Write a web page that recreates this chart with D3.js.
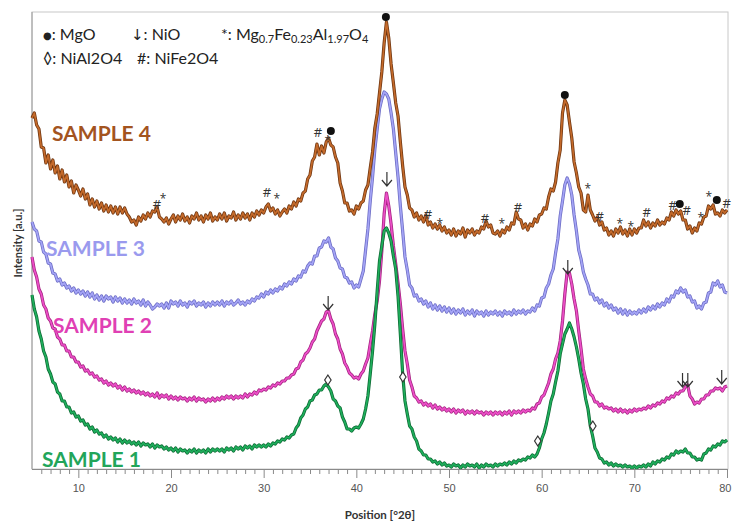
<!DOCTYPE html>
<html><head><meta charset="utf-8">
<script src="https://cdn.jsdelivr.net/npm/d3@7"></script>
<style>body{margin:0;background:#fff}svg{display:block}</style>
</head><body>
<svg id="chart" width="732" height="522"></svg>
<script>
// ---------- DATA ----------
// 2θ sampling grid (5° → 80°, 0.25° step)
const twoTheta = d3.range(0, 301).map(i => 5 + i * 0.25);
const xTicks = [10, 20, 30, 40, 50, 60, 70, 80];
const sampleNames = ["SAMPLE 1", "SAMPLE 2", "SAMPLE 3", "SAMPLE 4"];

// intensities [a.u.] (stacked patterns, offset included)
const sample4 = [
351,356,344,340,322,321,306,314,300,309,296,303,290,299,287,294,282,288,276,284,
279,273,280,270,275,264,270,262,268,260,266,258,264,257,263,256,262,255,262,256,
261,255,252,247,249,244,252,248,254,250,256,252,258,257,262,252,250,247,251,245,
250,254,247,253,249,255,248,252,246,253,250,256,249,253,247,254,250,256,248,252,
249,255,250,256,248,253,251,257,249,254,250,256,251,255,249,256,252,258,254,259,
256,262,265,258,261,255,259,253,257,260,256,263,260,267,263,270,268,276,278,290,
294,308,312,325,314,323,316,327,331,324,322,312,306,286,278,266,266,258,259,255,
263,260,266,268,279,284,301,317,341,355,376,397,426,447,431,405,386,366,353,327,
303,282,274,261,259,252,256,249,253,247,254,244,247,241,245,240,244,238,242,236,
239,234,240,233,238,235,241,232,239,236,240,234,238,236,242,240,248,242,244,236,
235,238,233,239,236,242,239,246,245,257,250,249,241,245,239,245,243,250,247,254,
255,261,260,272,280,278,287,306,319,356,369,364,347,331,307,296,282,276,259,257,
274,259,254,248,252,244,247,239,241,234,238,233,240,236,242,235,239,233,240,234,
240,236,241,241,249,243,247,241,246,243,249,244,247,245,251,249,257,253,259,255,
258,249,249,240,243,236,241,238,246,245,252,253,263,260,264,255,256,253,259,256,
259];
const sample3 = [
247,240,238,228,227,217,215,206,205,196,195,188,190,184,186,181,183,178,181,176,
179,175,178,173,177,172,176,170,174,169,173,168,173,170,172,167,172,168,171,166,
170,166,169,165,170,166,168,164,169,163,167,164,160,162,165,163,165,161,166,161,
168,165,167,163,168,164,166,162,167,165,168,163,166,164,167,162,166,163,167,164,
167,164,168,163,167,165,168,164,166,169,165,167,164,168,166,170,168,172,171,175,
172,177,175,179,176,180,178,182,180,185,183,187,185,190,188,193,192,198,197,203,
206,205,213,213,221,222,228,227,231,222,220,211,208,201,200,192,191,186,187,181,
184,182,190,198,219,240,268,292,320,340,360,370,377,375,370,356,340,316,292,263,
238,212,199,184,181,173,174,168,170,165,168,162,166,160,164,159,163,158,162,157,
161,156,160,155,159,156,160,154,158,155,159,153,158,155,157,153,158,154,157,155,
158,154,157,153,158,155,157,154,159,155,158,156,159,155,158,157,161,158,164,163,
171,172,181,185,194,200,216,230,253,268,284,291,285,274,254,238,219,210,197,190,
184,175,175,169,171,166,169,163,166,161,164,159,161,156,160,155,159,154,158,155,
157,155,159,156,160,157,162,159,163,160,165,162,166,164,170,167,173,172,178,176,
181,177,179,172,173,167,168,161,163,160,166,167,176,177,186,184,188,182,184,177,
176];
const sample2 = [
212,199,192,180,175,164,160,151,148,141,140,132,130,124,124,118,118,112,112,107,
107,102,103,98,99,95,96,92,93,89,90,86,88,84,86,83,85,81,83,79,
82,78,80,77,79,76,78,75,77,74,76,73,75,72,76,71,74,72,74,70,
73,70,72,69,72,70,71,68,71,69,72,68,71,69,70,67,70,68,71,68,
71,69,72,70,73,71,73,70,73,71,73,71,75,72,75,74,77,75,79,78,
80,79,82,81,84,83,86,85,88,88,91,91,94,95,100,101,107,109,115,117,
121,127,130,138,143,148,150,157,158,150,145,135,130,120,115,106,102,96,94,91,
92,90,95,98,105,111,125,138,155,168,188,218,255,276,263,245,223,205,186,165,
140,118,105,89,82,73,71,67,68,64,66,63,65,61,64,60,62,59,61,58,
60,57,60,56,59,57,59,55,58,56,58,55,58,56,57,54,57,55,57,54,
57,55,57,54,57,55,58,54,58,56,58,56,59,57,59,58,61,60,65,66,
72,74,80,86,95,100,110,116,128,148,175,197,196,185,170,158,138,120,100,90,
82,75,73,67,67,63,65,61,62,60,61,58,60,57,60,57,59,56,59,57,
60,58,60,59,61,60,63,61,64,63,66,65,68,67,71,70,73,72,76,75,
78,78,82,84,73,70,65,67,66,70,70,74,74,78,78,81,80,81,78,82,
83];
const sample1 = [
174,160,152,138,130,118,112,100,95,87,85,77,75,68,68,62,62,56,57,52,
53,48,49,44,45,40,42,37,39,35,36,32,34,30,32,29,31,27,30,26,
29,26,28,25,27,24,27,23,26,24,25,22,25,21,24,22,23,20,22,19,
21,18,21,17,20,18,19,16,19,17,20,16,19,17,19,16,20,17,20,18,
20,18,20,17,21,19,21,18,22,20,22,19,23,21,23,20,24,22,24,22,
24,22,25,23,26,25,28,27,30,29,32,31,34,35,41,44,51,54,60,62,
68,69,74,75,79,79,83,85,82,78,70,68,63,61,52,47,40,40,38,41,
42,41,45,50,60,73,95,118,145,178,208,223,238,241,236,228,213,200,173,135,
95,68,55,43,40,32,28,20,18,14,14,10,10,7,8,5,7,4,6,3,
4,2,5,3,4,1,4,2,5,3,4,2,5,1,4,2,5,3,4,2,
5,3,5,4,6,4,7,5,8,6,9,8,10,9,12,11,14,12,15,21,
30,36,45,56,68,75,87,98,115,125,135,140,146,140,132,122,110,96,85,70,
60,43,33,21,17,11,10,6,7,4,6,3,5,3,4,2,4,2,3,1,
3,1,3,2,4,2,5,3,7,5,8,7,10,9,12,11,15,14,18,16,
18,17,20,16,16,12,12,9,10,9,15,16,20,19,23,22,25,24,28,27,
29];

// phase markers (2θ, intensity, symbol)
const markTheta = [18.48,19.13,30.35,31.43,35.85,36.93,37.25,43.19,47.72,49.01,53.87,55.70,57.43,62.50,64.98,66.27,68.43,69.62,71.34,74.15,74.90,75.66,77.17,78.03,78.90,79.97,
                   36.93,45.02,59.58,65.52,
                   36.96,43.30,62.82,75.20,75.77,79.43];
const markIntensity = [265,271,277,271,337,329,338,452,255,246,251,246,262,374,281,253,246,243,257,264,265,259,252,273,269,266,
                       89,92,28,43,
                       159,283,195,82,82,85];
const markSymbol = ["#","*","#","*","#","*","●","●","#","*","#","*","#","●","*","#","*","*","#","#","●","#","*","*","●","#",
                    "◊","◊","◊","◊",
                    "↓","↓","↓","↓","↓","↓"];

// ---------- CHART ----------
const svg = d3.select("#chart");
const x = d3.scaleLinear().domain([5, 80]).range([32, 727]);
const y = d3.scaleLinear().domain([0, 457]).range([469, 12]);

// frame
svg.append("rect").attr("x", 32).attr("y", 12).attr("width", 696).attr("height", 457)
  .attr("fill", "none").attr("stroke", "#c8c8c8").attr("stroke-width", 1);
svg.append("line").attr("x1", 32).attr("x2", 32).attr("y1", 12).attr("y2", 469)
  .attr("stroke", "#9a9a9a");

// series
const styles = [
  {c: "#1fae5c", d: "#0c6a33"},
  {c: "#ec4fc8", d: "#a3227f"},
  {c: "#a4a4f6", d: "#6b6bc4"},
  {c: "#c46a2b", d: "#6e3510"}
];
const seriesVals = [sample1, sample2, sample3, sample4];
const line = d3.line().x((d, i) => x(twoTheta[i])).y(d => y(d));
[2, 3, 1, 0].forEach(k => {
  const g = svg.append("g");
  g.append("path").attr("d", line(seriesVals[k])).attr("fill", "none")
    .attr("stroke", styles[k].d).attr("stroke-width", 3.2).attr("stroke-linejoin", "round");
  g.append("path").attr("d", line(seriesVals[k])).attr("fill", "none")
    .attr("stroke", styles[k].c).attr("stroke-width", 1.7).attr("stroke-linejoin", "round");
});

// x axis
const axisG = svg.append("g").attr("transform", "translate(0,469)");
axisG.call(d3.axisBottom(x).tickValues(d3.range(6, 81).filter(v => v % 10 !== 0)).tickSize(5).tickFormat(""));
const majG = svg.append("g").attr("transform", "translate(0,469)");
majG.call(d3.axisBottom(x).tickValues(xTicks).tickSize(9).tickPadding(6).tickFormat(d3.format("d")));
[axisG, majG].forEach(g => {
  g.select(".domain").attr("stroke", "#8a8a8a").attr("d", "M32,0.5H728");
  g.selectAll(".tick line").attr("stroke", "#8a8a8a");
});
majG.selectAll(".tick text").attr("fill", "#555").attr("font-size", 11)
  .attr("font-family", "Liberation Sans, Arial, sans-serif");
majG.selectAll(".tick text").filter(d => d === 80).attr("text-anchor", "end").attr("dx", 4);

// axis titles
svg.append("text").attr("x", 380).attr("y", 519).attr("text-anchor", "middle")
  .attr("font-family", "Lato, sans-serif").attr("font-weight", "bold").attr("font-size", 11.5)
  .attr("fill", "#333").text("Position [°2θ]");
svg.append("text").attr("transform", "translate(22,243) rotate(-90)").attr("text-anchor", "middle")
  .attr("font-family", "Lato, sans-serif").attr("font-weight", "bold").attr("font-size", 11)
  .attr("fill", "#333").text("Intensity [a.u.]");

// sample labels
const labelPos = [[42, 467], [53, 333], [46, 256], [52, 141]];
const labelCol = ["#22a55a", "#e040b4", "#9a9aee", "#a3541f"];
sampleNames.forEach((n, i) => {
  svg.append("text").attr("x", labelPos[i][0]).attr("y", labelPos[i][1])
    .attr("font-family", "Lato, sans-serif").attr("font-weight", "bold").attr("font-size", 21)
    .attr("fill", labelCol[i]).text(n);
});

// markers
const mk = svg.append("g");
markSymbol.forEach((s, i) => {
  const px = x(markTheta[i]), py = y(markIntensity[i]);
  if (s === "●") {
    mk.append("circle").attr("cx", px).attr("cy", py).attr("r", 4).attr("fill", "#111");
  } else if (s === "◊") {
    mk.append("path").attr("d", `M${px},${py-5}L${px+3.2},${py}L${px},${py+5}L${px-3.2},${py}Z`)
      .attr("fill", "#fff").attr("stroke", "#333").attr("stroke-width", 1.2);
  } else if (s === "↓") {
    mk.append("path").attr("d", `M${px},${py-14}V${py}M${px-5},${py-6}L${px},${py}L${px+5},${py-6}`)
      .attr("fill", "none").attr("stroke", "#333").attr("stroke-width", 1.2);
  } else {
    mk.append("text").attr("x", px).attr("y", py).attr("text-anchor", "middle")
      .attr("dominant-baseline", "central")
      .attr("font-family", "Open Sans, sans-serif").attr("font-size", s === "#" ? 13 : 12)
      .attr("fill", "#333").text(s);
  }
});

// legend
const lg = svg.append("g").attr("font-family", "Lato, sans-serif").attr("font-size", 16).attr("fill", "#222");
const t1 = lg.append("text").attr("x", 43).attr("y", 40);
t1.append("tspan").attr("font-size", 10).attr("font-family", "DejaVu Sans").attr("dy", -1).text("●");
t1.append("tspan").attr("dy", 1).text(": MgO");
const t2 = lg.append("text").attr("x", 131).attr("y", 40);
t2.append("tspan").attr("font-family", "DejaVu Sans").attr("font-size", 15).text("↓");
t2.append("tspan").text(": NiO");
const t3 = lg.append("text").attr("x", 221).attr("y", 40);
t3.append("tspan").text("*: Mg");
t3.append("tspan").attr("font-size", 11).attr("dy", 3).text("0.7");
t3.append("tspan").attr("dy", -3).text("Fe");
t3.append("tspan").attr("font-size", 11).attr("dy", 3).text("0.23");
t3.append("tspan").attr("dy", -3).text("Al");
t3.append("tspan").attr("font-size", 11).attr("dy", 3).text("1.97");
t3.append("tspan").attr("dy", -3).text("O");
t3.append("tspan").attr("font-size", 11).attr("dy", 3).text("4");
lg.append("text").attr("x", 43).attr("y", 64).text("◊: NiAl2O4");
lg.append("text").attr("x", 137).attr("y", 64).text("#: NiFe2O4");
</script>
</body></html>
